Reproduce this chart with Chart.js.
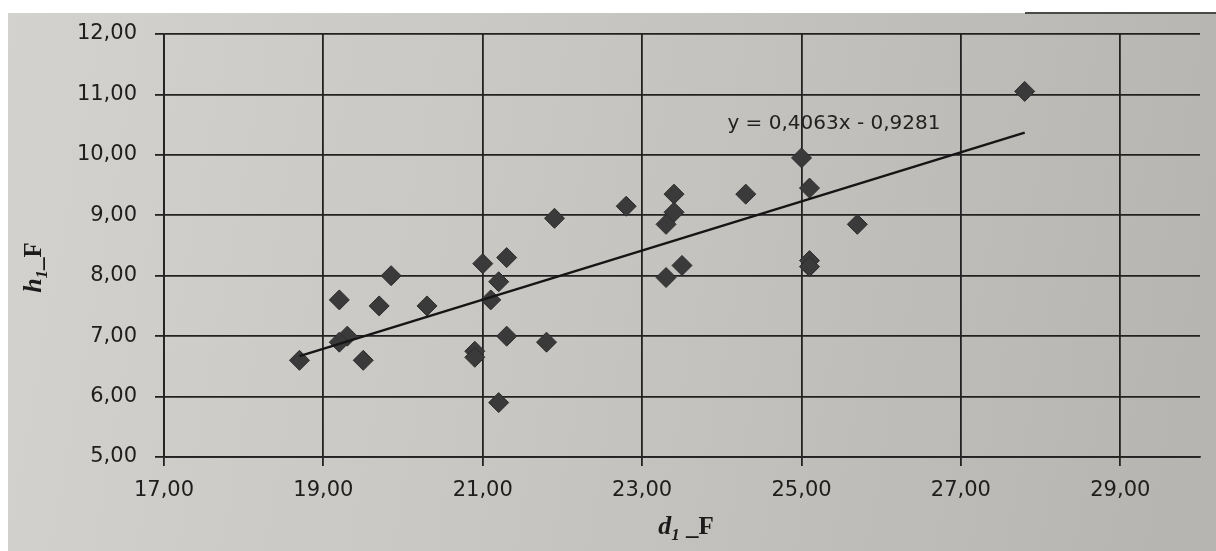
<!DOCTYPE html>
<html>
<head>
<meta charset="utf-8">
<title>h1_F / d1_F</title>
<script src="https://cdn.jsdelivr.net/npm/chart.js@4.4.1/dist/chart.umd.min.js"></script>
<style>
  html, body { margin: 0; padding: 0; background: #fff; }
  body { width: 1216px; height: 551px; overflow: hidden; position: relative; }
  #paper {
    position: absolute; left: 8px; top: 13px; right: 0; bottom: 0;
    background: linear-gradient(100deg, #d4d2ce 0%, #c8c6c2 45%, #b6b4b0 100%);
  }
  #edge { position: absolute; left: 1025px; top: 12px; right: 0; height: 2px; background: #4a4a4a; }
  #scatter { position: absolute; left: 0; top: 0; }
</style>
</head>
<body>
<div id="paper"></div>
<div id="edge"></div>
<canvas id="scatter" width="1216" height="551"></canvas>
<script>
// d1_F / h1_F pairs
const d1 = [18.7, 19.2, 19.85, 19.7, 19.3, 19.2, 19.5, 20.3, 21.0, 21.3, 21.2, 21.1, 21.3, 21.8, 20.9, 20.9,
            21.2, 21.9, 22.8, 23.4, 23.4, 23.3, 23.3, 23.5, 24.3, 25.0, 25.1, 25.1, 25.1, 25.7, 27.8];
const h1 = [6.6, 7.6, 8.0, 7.5, 7.0, 6.9, 6.6, 7.5, 8.2, 8.3, 7.9, 7.6, 7.0, 6.9, 6.75, 6.65,
            5.9, 8.95, 9.15, 9.35, 9.05, 8.85, 7.97, 8.17, 9.35, 9.95, 9.45, 8.25, 8.15, 8.85, 11.05];
const xTicks = [17, 19, 21, 23, 25, 27, 29];
const yTicks = [5, 6, 7, 8, 9, 10, 11, 12];

// linear trend  y = slope * x + intercept
const slope = 0.4063;
const intercept = -0.9281;

window.addEventListener('load', function () {

    const comma = (v, n) => v.toFixed(n).replace('.', ',');

    const points = d1.map((x, i) => ({ x: x, y: h1[i] }));
    const xFrom = Math.min(...d1);
    const xTo = Math.max(...d1);
    const trend = [xFrom, xTo].map(x => ({ x: x, y: slope * x + intercept }));
    const trendText = 'y = ' + comma(slope, 4) + 'x ' + (intercept < 0 ? '- ' : '+ ') + comma(Math.abs(intercept), 4);

    const ink = '#222222';
    const tickFont = { family: 'DejaVu Sans', size: 21 };

    // draws a run of differently styled pieces centred on (0, 0)
    function richText(ctx, parts) {
        let w = 0;
        parts.forEach(p => { ctx.font = p.font; w += ctx.measureText(p.text).width; });
        let x = -w / 2;
        parts.forEach(p => {
            ctx.font = p.font;
            ctx.fillText(p.text, x, p.dy || 0);
            x += ctx.measureText(p.text).width;
        });
    }

    const serif = '"Liberation Serif", "DejaVu Serif", serif';

    const titles = {
        id: 'titles',
        afterDraw(chart) {
            const ctx = chart.ctx;
            const area = chart.chartArea;
            const xs = chart.scales.x;
            const ys = chart.scales.y;
            ctx.save();
            ctx.fillStyle = '#1b1b1b';
            ctx.textAlign = 'left';
            ctx.textBaseline = 'alphabetic';

            // x axis title
            ctx.save();
            ctx.translate((area.left + area.right) / 2 + 4, area.bottom + 77);
            richText(ctx, [
                { text: 'd', font: 'bold italic 26px ' + serif },
                { text: '1', font: 'bold italic 17px ' + serif, dy: 6 },
                { text: ' _F', font: 'bold 25px ' + serif }
            ]);
            ctx.restore();

            // y axis title
            ctx.save();
            ctx.translate(41, (area.top + area.bottom) / 2 + 22);
            ctx.rotate(-Math.PI / 2);
            richText(ctx, [
                { text: 'h', font: 'bold italic 26px ' + serif },
                { text: '1', font: 'bold italic 17px ' + serif, dy: 6 },
                { text: '_F', font: 'bold 25px ' + serif }
            ]);
            ctx.restore();

            // trend equation
            ctx.font = '20px "DejaVu Sans"';
            ctx.fillStyle = '#222222';
            ctx.fillText(trendText, xs.getPixelForValue(24.07), ys.getPixelForValue(10.42));
            ctx.restore();
        }
    };

    const config = {
        type: 'scatter',
        data: {
            datasets: [
                {
                    type: 'line',
                    data: trend,
                    borderColor: '#151515',
                    borderWidth: 2.5,
                    pointRadius: 0,
                    order: 0
                },
                {
                    data: points,
                    pointStyle: 'rectRot',
                    pointRadius: 10,
                    backgroundColor: '#3a3a3a',
                    borderColor: '#2c2c2c',
                    borderWidth: 1,
                    order: 1
                }
            ]
        },
        options: {
            responsive: false,
            animation: false,
            layout: { padding: { top: 34, right: 16, left: 0, bottom: 0 } },
            plugins: {
                legend: { display: false },
                tooltip: { enabled: false }
            },
            scales: {
                x: {
                    type: 'linear',
                    min: 17,
                    max: 30,
                    afterBuildTicks: axis => { axis.ticks = xTicks.map(v => ({ value: v })); },
                    afterFit: axis => { axis.height = 94; },
                    grid: { color: ink, lineWidth: 1.8, tickLength: 9 },
                    border: { color: ink, width: 1.8 },
                    ticks: {
                        font: tickFont,
                        color: '#1e1e1e',
                        padding: 12,
                        maxRotation: 0,
                        callback: v => comma(v, 2)
                    }
                },
                y: {
                    type: 'linear',
                    min: 5,
                    max: 12,
                    afterBuildTicks: axis => { axis.ticks = yTicks.map(v => ({ value: v })); },
                    afterFit: axis => { axis.width = 164; },
                    grid: { color: ink, lineWidth: 1.8, tickLength: 9 },
                    border: { color: ink, width: 1.8 },
                    ticks: {
                        font: tickFont,
                        color: '#1e1e1e',
                        padding: 18,
                        callback: v => comma(v, 2)
                    }
                }
            }
        },
        plugins: [titles]
    };

    const ctx = document.getElementById('scatter').getContext('2d');
    const scatterChart = new Chart(ctx, config);
});
</script>
</body>
</html>
